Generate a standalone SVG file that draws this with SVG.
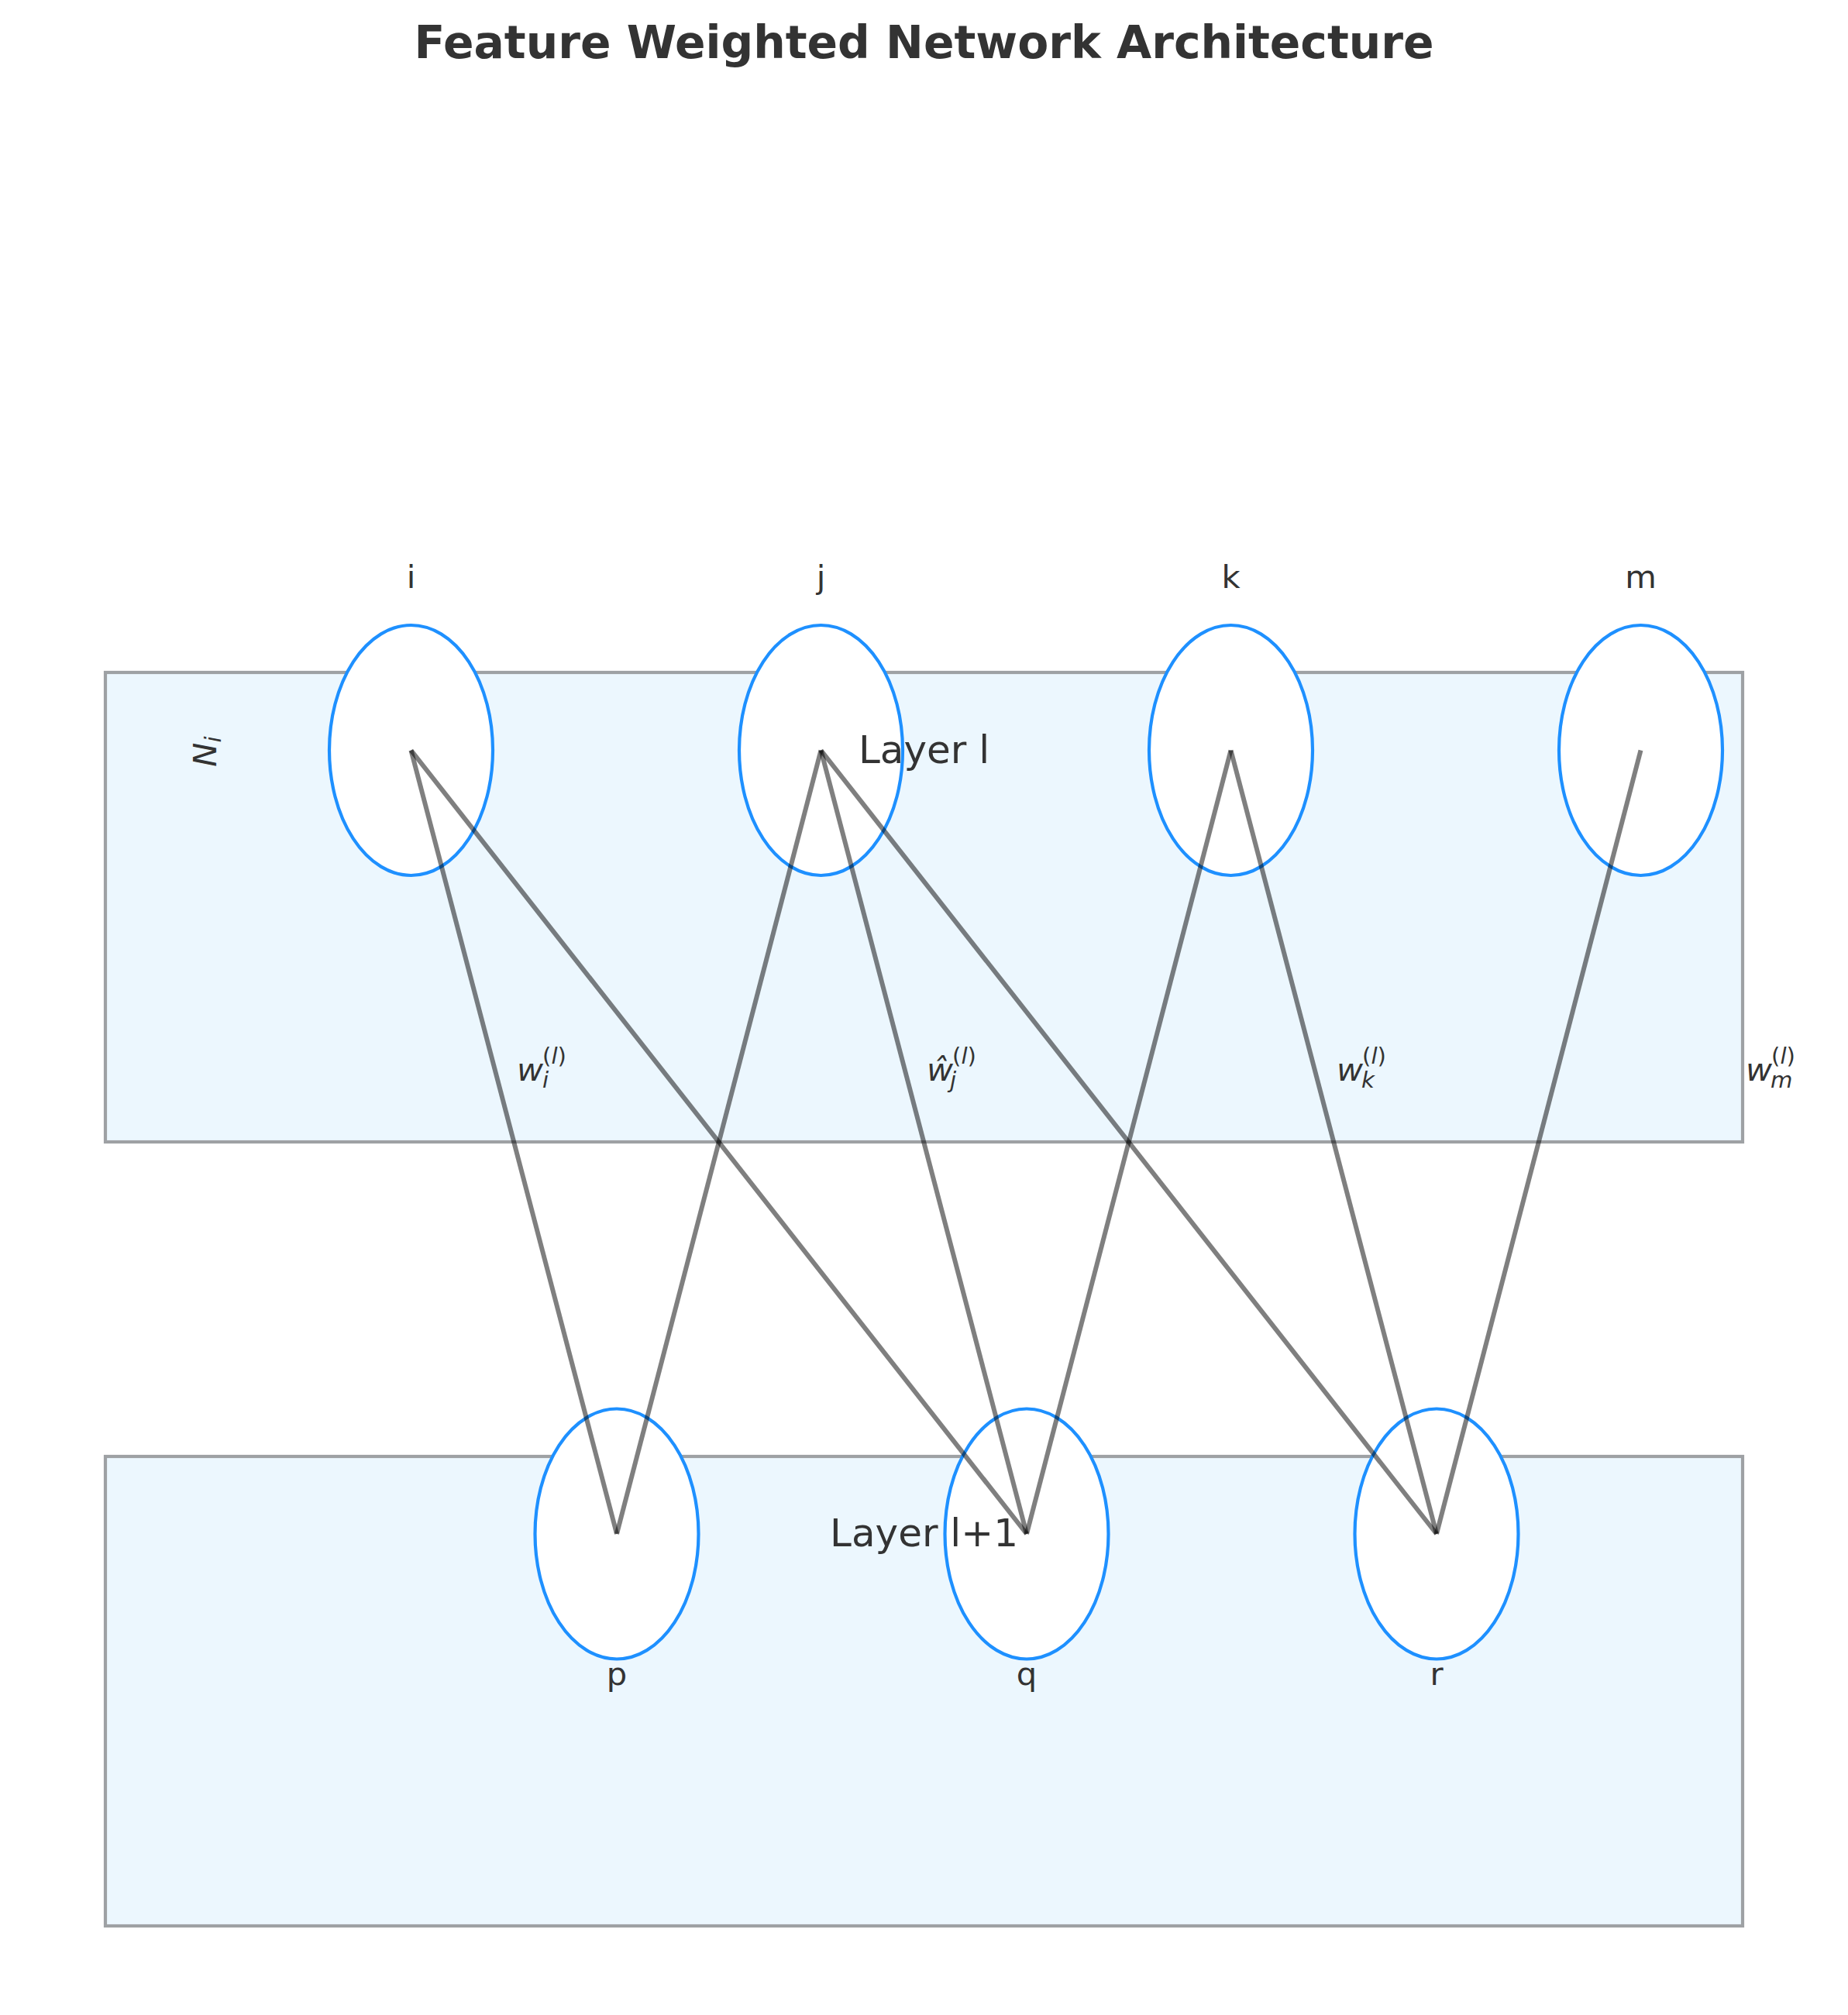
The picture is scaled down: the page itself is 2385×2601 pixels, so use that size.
<svg xmlns="http://www.w3.org/2000/svg" width="2385" height="2601" viewBox="0 0 2385 2601">
<style>
text{font-family:"DejaVu Sans","Liberation Sans",sans-serif;fill:#333333}
.title{font-size:58.3px;font-weight:bold}
.layer{fill:#ECF7FE;stroke:#9EA1A4;stroke-width:4.2}
.node{fill:#FFFFFF;stroke:#1E90FF;stroke-width:4.2}
.lbl{font-size:41.7px}
.lay{font-size:50px}
.w{font-size:41.7px;font-style:italic}
.s{font-size:29.2px}
.u{font-style:normal}
.edge{stroke:#000000;stroke-opacity:0.5;stroke-width:6;fill:none}
</style>
<rect width="2385" height="2601" fill="#FFFFFF"/>
<text class="title" x="1192.5" y="75" text-anchor="middle">Feature Weighted Network Architecture</text>

<g id="layer-l">
<rect class="layer" x="136" y="868" width="2113" height="606"/>
</g>
<g id="layer-l1">
<rect class="layer" x="136" y="1880" width="2113" height="606"/>
</g>

<g id="node-i"><ellipse class="node" cx="530.5" cy="968.5" rx="105.5" ry="161.5"/><text class="lbl" x="530.5" y="759" text-anchor="middle">i</text></g>
<g id="node-j"><ellipse class="node" cx="1059.5" cy="968.5" rx="105.5" ry="161.5"/><text class="lbl" x="1059.5" y="759" text-anchor="middle">j</text></g>
<g id="node-k"><ellipse class="node" cx="1588.5" cy="968.5" rx="105.5" ry="161.5"/><text class="lbl" x="1588.5" y="759" text-anchor="middle">k</text></g>
<g id="node-m"><ellipse class="node" cx="2117.5" cy="968.5" rx="105.5" ry="161.5"/><text class="lbl" x="2117.5" y="759" text-anchor="middle">m</text></g>
<g id="node-p"><ellipse class="node" cx="796" cy="1980" rx="105.5" ry="161.5"/><text class="lbl" x="796" y="2175" text-anchor="middle">p</text></g>
<g id="node-q"><ellipse class="node" cx="1325" cy="1980" rx="105.5" ry="161.5"/><text class="lbl" x="1325" y="2175" text-anchor="middle">q</text></g>
<g id="node-r"><ellipse class="node" cx="1854" cy="1980" rx="105.5" ry="161.5"/><text class="lbl" x="1854" y="2175" text-anchor="middle">r</text></g>

<g id="connectors">
<line class="edge" x1="530.5" y1="968.5" x2="796" y2="1980"/>
<line class="edge" x1="530.5" y1="968.5" x2="1325" y2="1980"/>
<line class="edge" x1="1059.5" y1="968.5" x2="796" y2="1980"/>
<line class="edge" x1="1059.5" y1="968.5" x2="1325" y2="1980"/>
<line class="edge" x1="1059.5" y1="968.5" x2="1854" y2="1980"/>
<line class="edge" x1="1588.5" y1="968.5" x2="1325" y2="1980"/>
<line class="edge" x1="1588.5" y1="968.5" x2="1854" y2="1980"/>
<line class="edge" x1="2117.5" y1="968.5" x2="1854" y2="1980"/>
</g>

<g id="layer-labels">
<text class="lay" x="1192.5" y="985" text-anchor="middle">Layer l</text>
<text class="lay" x="1192.5" y="1996" text-anchor="middle">Layer l+1</text>
</g>

<g id="ni-label">
<text class="w" transform="translate(279,970) rotate(-90)" text-anchor="middle">N<tspan class="s" dy="6">i</tspan></text>
</g>

<g id="weight-labels">
<text class="w" x="667" y="1395">w<tspan class="s" x="700" y="1404">i</tspan><tspan class="s" x="700" y="1373"><tspan class="u">(</tspan>l<tspan class="u">)</tspan></tspan></text>
<text class="w" x="1196" y="1395">ŵ<tspan class="s" x="1226" y="1404">j</tspan><tspan class="s" x="1229" y="1373"><tspan class="u">(</tspan>l<tspan class="u">)</tspan></tspan></text>
<text class="w" x="1725" y="1395">w<tspan class="s" x="1757" y="1404">k</tspan><tspan class="s" x="1758" y="1373"><tspan class="u">(</tspan>l<tspan class="u">)</tspan></tspan></text>
<text class="w" x="2253" y="1395">w<tspan class="s" x="2285" y="1404">m</tspan><tspan class="s" x="2286" y="1373"><tspan class="u">(</tspan>l<tspan class="u">)</tspan></tspan></text>
</g>
</svg>
